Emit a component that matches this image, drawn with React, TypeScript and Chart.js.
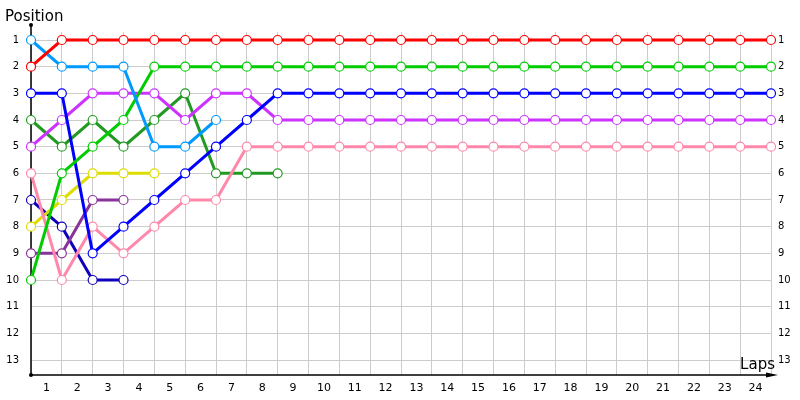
import React, { useEffect, useRef } from "react";
import { Chart, registerables } from "chart.js";

Chart.register(...registerables);

const laps = [0, 1, 2, 3, 4, 5, 6, 7, 8, 9, 10, 11, 12, 13, 14, 15, 16, 17, 18, 19, 20, 21, 22, 23, 24];
const xTickLabels = ["", "1", "2", "3", "4", "5", "6", "7", "8", "9", "10", "11", "12", "13", "14", "15", "16", "17", "18", "19", "20", "21", "22", "23", "24"];
const positionTicks = [1, 2, 3, 4, 5, 6, 7, 8, 9, 10, 11, 12, 13];

const redPos = [2, 1, 1, 1, 1, 1, 1, 1, 1, 1, 1, 1, 1, 1, 1, 1, 1, 1, 1, 1, 1, 1, 1, 1, 1];
const greenPos = [10, 6, 5, 4, 2, 2, 2, 2, 2, 2, 2, 2, 2, 2, 2, 2, 2, 2, 2, 2, 2, 2, 2, 2, 2];
const bluePos = [3, 3, 9, 8, 7, 6, 5, 4, 3, 3, 3, 3, 3, 3, 3, 3, 3, 3, 3, 3, 3, 3, 3, 3, 3];
const violetPos = [5, 4, 3, 3, 3, 4, 3, 3, 4, 4, 4, 4, 4, 4, 4, 4, 4, 4, 4, 4, 4, 4, 4, 4, 4];
const pinkPos = [6, 10, 8, 9, 8, 7, 7, 5, 5, 5, 5, 5, 5, 5, 5, 5, 5, 5, 5, 5, 5, 5, 5, 5, 5];
const lightBluePos = [1, 2, 2, 2, 5, 5, 4];
const darkGreenPos = [4, 5, 4, 5, 4, 3, 6, 6, 6];
const yellowPos = [8, 7, 6, 6, 6];
const darkPurplePos = [9, 9, 7, 7];
const navyPos = [7, 8, 10, 10];

const seriesList = [
  { name: "red", values: redPos, color: "#ff0000" },
  { name: "lightblue", values: lightBluePos, color: "#0099ff" },
  { name: "green", values: greenPos, color: "#00cc00" },
  { name: "blue", values: bluePos, color: "#0000ff" },
  { name: "violet", values: violetPos, color: "#cc33ff" },
  { name: "pink", values: pinkPos, color: "#ff88aa" },
  { name: "darkgreen", values: darkGreenPos, color: "#229922" },
  { name: "yellow", values: yellowPos, color: "#dddd00" },
  { name: "darkpurple", values: darkPurplePos, color: "#883399" },
  { name: "navy", values: navyPos, color: "#1100bb" },
];

const axisPlugin = {
  id: "axisDecor",
  beforeDatasetsDraw(chart: any) {
    const { ctx, chartArea } = chart;
    const { left, right, top, bottom } = chartArea;
    ctx.save();
    ctx.strokeStyle = "#000";
    ctx.fillStyle = "#000";
    ctx.lineWidth = 1.5;
    ctx.beginPath();
    ctx.moveTo(left, top - 7);
    ctx.lineTo(left, bottom);
    ctx.lineTo(right + 2, bottom);
    ctx.stroke();
    ctx.beginPath();
    ctx.arc(left, top - 7, 2, 0, Math.PI * 2);
    ctx.fill();
    ctx.beginPath();
    ctx.arc(left, bottom, 2, 0, Math.PI * 2);
    ctx.fill();
    ctx.beginPath();
    ctx.moveTo(right + 7, bottom);
    ctx.lineTo(right - 5, bottom - 2.5);
    ctx.lineTo(right - 5, bottom + 2.5);
    ctx.closePath();
    ctx.fill();
    ctx.restore();
  },
  afterDraw(chart: any) {
    const { ctx, chartArea } = chart;
    ctx.save();
    ctx.fillStyle = "#000";
    ctx.font = "15px 'DejaVu Sans'";
    ctx.textBaseline = "alphabetic";
    ctx.textAlign = "left";
    ctx.fillText("Position", 5, 21);
    ctx.textAlign = "right";
    ctx.fillText("Laps", chartArea.right + 4, chartArea.bottom - 6);
    ctx.restore();
  },
};

export default function App() {
  const ref = useRef<HTMLCanvasElement | null>(null);
  useEffect(() => {
    document.body.style.margin = "0";
    const canvas = ref.current;
    if (!canvas) return;
    const datasets = seriesList.map((s) => ({
      label: s.name,
      data: s.values.map((v, i) => ({ x: laps[i], y: v })),
      borderColor: s.color,
      backgroundColor: s.color,
      borderWidth: 3,
      pointRadius: 4.5,
      pointBorderWidth: 1.2,
      pointBackgroundColor: "#ffffff",
      pointBorderColor: s.color,
      tension: 0,
      fill: false,
      clip: false as any,
    }));
    const yCommon = {
      type: "linear" as const,
      reverse: true,
      min: 0.7,
      max: 13.5625,
      afterBuildTicks: (scale: any) => {
        scale.ticks = positionTicks.map((v) => ({ value: v }));
      },
      border: { display: false },
    };
    const chart = new Chart(canvas, {
      type: "line",
      data: { datasets },
      plugins: [axisPlugin],
      options: {
        animation: false,
        responsive: false,
        layout: { padding: { top: 32, left: 0, right: 0, bottom: 0 } },
        plugins: { legend: { display: false }, tooltip: { enabled: false }, title: { display: false } },
        scales: {
          x: {
            type: "linear",
            min: 0,
            max: 24,
            afterBuildTicks: (scale: any) => {
              scale.ticks = laps.map((v) => ({ value: v }));
            },
            afterFit: (scale: any) => {
              scale.height = 25;
            },
            grid: { color: "#cccccc", drawTicks: false, lineWidth: 1 },
            border: { display: false },
            ticks: {
              autoSkip: false,
              maxRotation: 0,
              padding: 7,
              labelOffset: -15.4,
              color: "#000",
              font: { family: "'DejaVu Sans'", size: 11 },
              callback: (value: any, index: number) => xTickLabels[index] ?? "",
            },
          },
          y: {
            ...yCommon,
            position: "left",
            afterFit: (scale: any) => {
              scale.width = 31;
            },
            grid: { color: "#cccccc", drawTicks: false, lineWidth: 1 },
            ticks: {
              padding: 12,
              color: "#000",
              font: { family: "'DejaVu Sans'", size: 10 },
              callback: (v: any) => String(v),
            },
          },
          y2: {
            ...yCommon,
            position: "right",
            afterFit: (scale: any) => {
              scale.width = 29;
            },
            grid: { display: false, drawTicks: false },
            ticks: {
              padding: 7,
              color: "#000",
              font: { family: "'DejaVu Sans'", size: 10 },
              callback: (v: any) => String(v),
            },
          },
        },
      },
    });
    return () => chart.destroy();
  }, []);
  return (
    <div style={{ width: 800, height: 400 }}>
      <canvas ref={ref} width={800} height={400} style={{ display: "block" }} />
    </div>
  );
}
